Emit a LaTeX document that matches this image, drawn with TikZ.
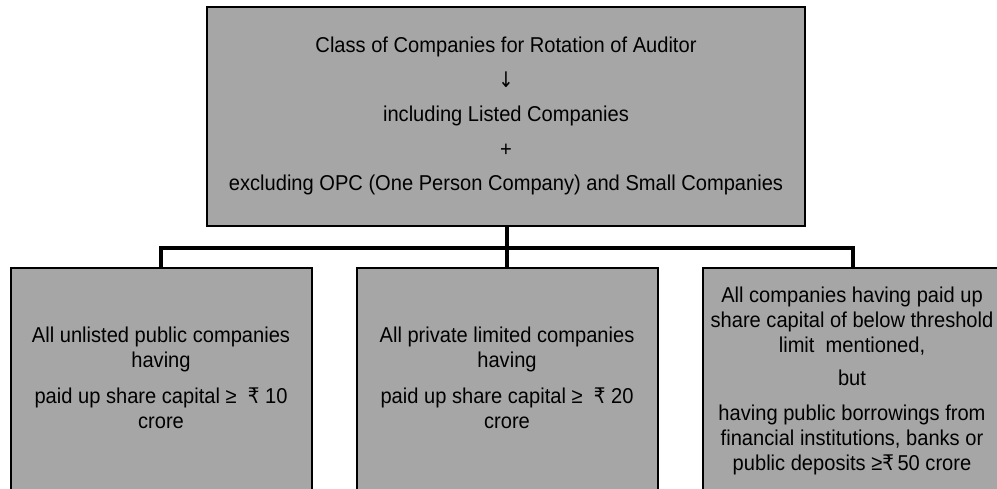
\documentclass[tikz,border=0pt]{standalone}
\usepackage{fontspec}
\setmainfont{Liberation Sans}[FakeStretch=0.935]
\newfontfamily\rsfont{DejaVu Sans}[FakeStretch=0.85]
\newcommand{\rupee}{{\rsfont\char"20B9}}
\definecolor{boxgray}{RGB}{166,166,166}
\tikzset{
  box/.style={draw=black, line width=2.2pt, fill=boxgray},
  link/.style={draw=black, line width=4.5pt},
  headtxt/.style={align=center, inner sep=0pt, font=\fontsize{21.5}{34.5}\selectfont},
  txt/.style={align=center, inner sep=0pt, font=\fontsize{21.5}{25}\selectfont},
}
\begin{document}
\begin{tikzpicture}[x=1pt, y=-1pt]
  \useasboundingbox (0,0) rectangle (997,488);
  \begin{scope}
    \clip (0,0) rectangle (997,488);
    % boxes
    \draw[box] (207,7) rectangle (805,226);
    \draw[box] (11,268) rectangle (312,496);
    \draw[box] (357,268) rectangle (658,496);
    \draw[box] (703,268) rectangle (1004,496);
    % anchors for the connectors
    \coordinate (top) at (507,226);
    \coordinate (busL) at (161,248);
    \coordinate (busR) at (853,248);
    \coordinate (l) at (161,268);
    \coordinate (m) at (507,268);
    \coordinate (r) at (853,268);
    \draw[link] (top) -- (m);
    \draw[link, line join=miter] (l) -- (busL) -- (busR) -- (r);
    % texts
    \node[headtxt] (head) at (506,116)
      {Class of Companies for Rotation of Auditor\\
       {\rsfont\char"2193}\\
       including Listed Companies\\
       +\\
       excluding OPC (One Person Company) and Small Companies};
    \node[txt] (left) at (161,378)
      {All unlisted public companies\\
       having\\[11pt]
       paid up share capital ≥\ \ \rupee\ 10\\
       crore};
    \node[txt] (mid) at (507,378)
      {All private limited companies\\
       having\\[11pt]
       paid up share capital ≥\ \ \rupee\ 20\\
       crore};
    \node[txt] (right) at (852,381)
      {All companies having paid up\\
       share capital of below threshold\\
       limit\ \ mentioned,\\[8pt]
       but\\[10pt]
       having public borrowings from\\
       financial institutions, banks or\\
       public deposits ≥\rupee\,50 crore};
  \end{scope}
\end{tikzpicture}
\end{document}
